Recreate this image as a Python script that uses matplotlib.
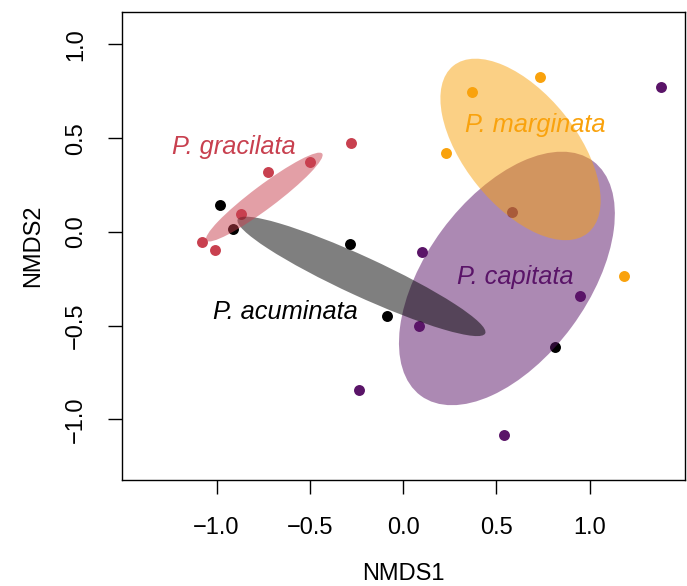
import matplotlib
matplotlib.use("Agg")
import matplotlib.pyplot as plt
from matplotlib.patches import Ellipse

plt.rcParams['font.family'] = ['Liberation Sans', 'DejaVu Sans']

# species scores (NMDS1, NMDS2)
gracilata_x = [-1.078, -1.006, -0.869, -0.722, -0.499, -0.279]
gracilata_y = [-0.055, -0.096, 0.094, 0.318, 0.373, 0.473]
acuminata_x = [-0.983, -0.912, -0.286, -0.084, 0.815]
acuminata_y = [0.142, 0.018, -0.066, -0.446, -0.615]
marginata_x = [0.368, 0.733, 0.232, 1.187]
marginata_y = [0.748, 0.828, 0.423, -0.235]
capitata_x = [1.385, 0.586, 0.100, 0.086, 0.949, -0.234, 0.542]
capitata_y = [0.775, 0.107, -0.108, -0.500, -0.341, -0.841, -1.083]

# ellipse centre, width, height, angle (deg)
ell_gracilata = (-0.744, 0.186, 0.775, 0.125, 36.7)
ell_acuminata = (-0.223, -0.237, 1.46, 0.21, -24.6)
ell_capitata = (0.557, -0.248, 1.555, 0.866, 53.5)
ell_marginata = (0.630, 0.440, 1.147, 0.60, -51.0)

# label positions
lab_gracilata = (-0.909, 0.453)
lab_acuminata = (-0.633, -0.427)
lab_marginata = (0.708, 0.571)
lab_capitata = (0.601, -0.240)

col_red = "#C8404F"
col_black = "#000000"
col_orange = "#F9A20D"
col_purple = "#5A1468"

ticks = [-1.0, -0.5, 0.0, 0.5, 1.0]
tick_labels = ["\u22121.0", "\u22120.5", "0.0", "0.5", "1.0"]

fig = plt.figure(figsize=(6.87, 5.86), dpi=100)
ax = fig.add_axes([122 / 687, 106 / 586, 563 / 687, 468 / 586])

# points first, ellipses drawn on top with transparency
for xs, ys, c in [(gracilata_x, gracilata_y, col_red),
                  (acuminata_x, acuminata_y, col_black),
                  (marginata_x, marginata_y, col_orange),
                  (capitata_x, capitata_y, col_purple)]:
    ax.scatter(xs, ys, s=62, color=c, linewidths=0, zorder=1)

for (cx, cy, w, h, ang), c in [(ell_capitata, col_purple),
                               (ell_acuminata, col_black),
                               (ell_gracilata, col_red),
                               (ell_marginata, col_orange)]:
    ax.add_patch(Ellipse((cx, cy), w, h, angle=ang, facecolor=c,
                         alpha=0.5, edgecolor='none', zorder=2))

for (x, y), txt, c in [(lab_gracilata, "P. gracilata", col_red),
                       (lab_acuminata, "P. acuminata", col_black),
                       (lab_marginata, "P. marginata", col_orange),
                       (lab_capitata, "P. capitata", col_purple)]:
    ax.text(x, y, txt, color=c, style='italic', fontsize=18.3,
            ha='center', va='center', zorder=3)

ax.set_xlim(-1.507, 1.512)
ax.set_ylim(-1.323, 1.173)
ax.set_xticks(ticks)
ax.set_xticklabels(tick_labels)
ax.set_yticks(ticks)
ax.set_yticklabels(tick_labels, rotation=90, va='center')
ax.tick_params(axis='both', direction='out', length=10, width=1,
               labelsize=17)
ax.tick_params(axis='x', pad=17)
ax.tick_params(axis='y', pad=15)
for sp in ax.spines.values():
    sp.set_linewidth(1.0)

fig.text(403 / 687, 1 - 574 / 586, "NMDS1", fontsize=17, ha='center', va='center')
fig.text(33 / 687, 1 - 246 / 586, "NMDS2", fontsize=17, ha='center', va='center',
         rotation=90)

fig.savefig("out.png", dpi=100)
